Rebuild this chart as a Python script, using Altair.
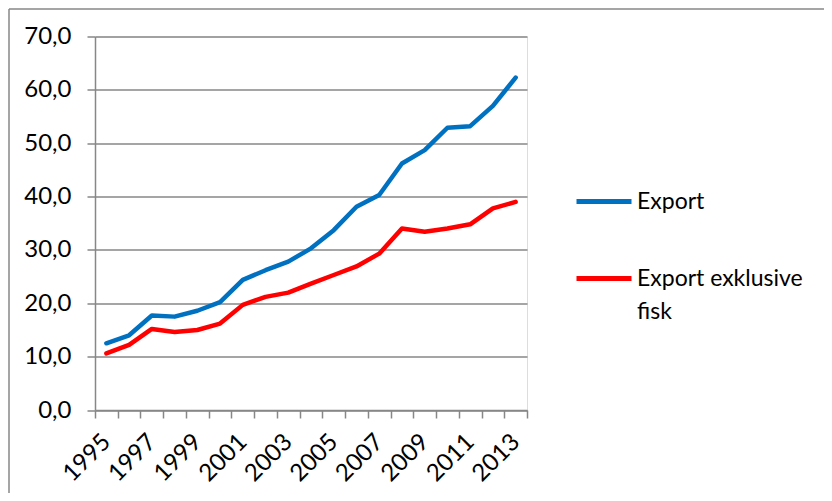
import altair as alt
import pandas as pd

years = [str(y) for y in range(1995, 2014)]
export_total = [12.5, 14.0, 17.7, 17.5, 18.6, 20.2, 24.4, 26.2, 27.8, 30.3,
                33.7, 38.1, 40.3, 46.2, 48.7, 52.9, 53.2, 57.0, 62.3]
export_excl_fisk = [10.6, 12.2, 15.2, 14.6, 15.0, 16.2, 19.7, 21.2, 22.0, 23.7,
                    25.3, 26.9, 29.3, 34.0, 33.4, 34.0, 34.8, 37.8, 39.0]
series_names = ["Export", "Export exklusive fisk"]
series_colors = ["#0070C0", "#FF0000"]
y_ticks = [0, 10, 20, 30, 40, 50, 60, 70]

rows = []
for name, vals in zip(series_names, [export_total, export_excl_fisk]):
    for yr, v in zip(years, vals):
        rows.append({"year": yr, "value": v, "series": name})
df = pd.DataFrame(rows)

FONT = "Lato"
GRAY = "#878787"

lines = alt.Chart(df).mark_line(strokeWidth=4.5, strokeCap="round", strokeJoin="round").encode(
    x=alt.X("year:O", sort=years, title=None,
            scale=alt.Scale(paddingInner=0, paddingOuter=0),
            axis=alt.Axis(tickBand="extent", labelAngle=-45, labelAlign="right",
                          labelBaseline="middle", labelPadding=20, tickSize=8,
                          labelExpr="toNumber(datum.value) % 2 == 1 ? datum.label : ''",
                          domainColor=GRAY, tickColor=GRAY, domainWidth=1.5, tickWidth=1.5,
                          labelFont=FONT, labelFontSize=24, labelColor="#000", grid=False)),
    y=alt.Y("value:Q", title=None,
            scale=alt.Scale(domain=[0, 70], nice=False),
            axis=alt.Axis(values=y_ticks, tickSize=8, labelPadding=16,
                          labelExpr="replace(format(datum.value, '.1f'), '.', ',')",
                          domainColor=GRAY, tickColor=GRAY, domainWidth=1.5, tickWidth=1.5,
                          gridColor=GRAY, gridWidth=1.5,
                          labelFont=FONT, labelFontSize=24, labelColor="#000")),
    color=alt.Color("series:N", sort=series_names,
                    scale=alt.Scale(domain=series_names, range=series_colors),
                    legend=alt.Legend(title=None, orient="none", legendX=479, legendY=135,
                                      symbolType="stroke", symbolSize=3025, symbolStrokeWidth=5,
                                      labelFont=FONT, labelFontSize=23, labelColor="#000",
                                      labelOffset=3, rowPadding=35, labelLimit=300,
                                      labelExpr="datum.label == 'Export exklusive fisk' ? ['Export exklusive', 'fisk'] : datum.label")),
)

border_df = pd.DataFrame({"k": [0]})
border_top = alt.Chart(border_df).mark_rule(color=GRAY, strokeWidth=1.5).encode(
    x=alt.value(-86), x2=alt.value(760), y=alt.value(-27.5))
border_left = alt.Chart(border_df).mark_rule(color=GRAY, strokeWidth=1.5).encode(
    x=alt.value(-86), y=alt.value(-27.5), y2=alt.value(480))

chart = alt.layer(border_top, border_left, lines).properties(
    width=432, height=373.5,
    autosize=alt.AutoSizeParams(type="none"),
    padding={"left": 87, "top": 28.5, "right": 297, "bottom": 83},
    background="white",
).configure_view(stroke=None).configure(style={"guide-label": {"lineHeight": 33}})

chart.save("out.html", embed_options={"renderer": "svg", "actions": False})
